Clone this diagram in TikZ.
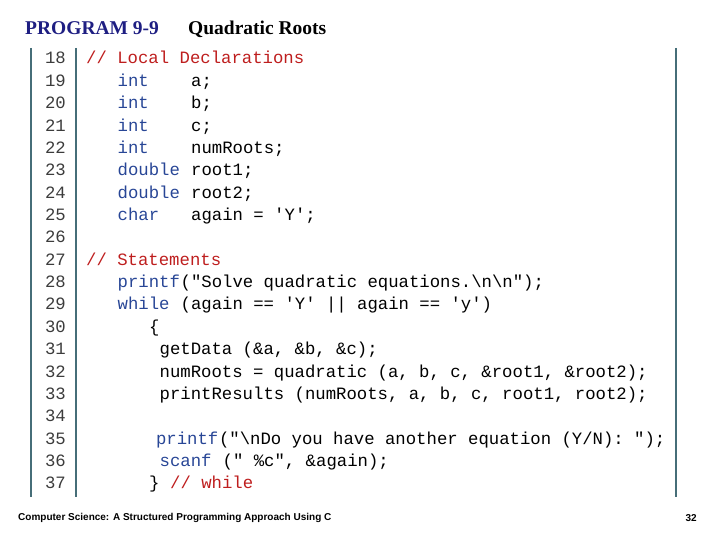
\documentclass[tikz,border=0pt]{standalone}
\usepackage{fontspec}
\setmainfont{Liberation Serif}
\setmonofont{Liberation Mono}
\newfontfamily\footfont{Liberation Sans}
\definecolor{kw}{RGB}{40,70,150}
\definecolor{cm}{RGB}{190,30,30}
\definecolor{ln}{RGB}{60,60,60}
\definecolor{rule}{RGB}{70,110,120}
\definecolor{navy}{RGB}{30,30,130}
\newcommand{\LY}[1]{-(64+22.36*(#1-18))}
\newcommand{\CX}[1]{(86+10.5*#1)}
\begin{document}
\begin{tikzpicture}[x=1pt,y=1pt,
  code/.style={anchor=base west,inner sep=0pt,font=\fontsize{17.3}{18}\ttfamily},
  num/.style={anchor=base east,inner sep=0pt,font=\fontsize{17.3}{18}\ttfamily,text=ln},
  k/.style={code,text=kw}, c/.style={code,text=cm}, p/.style={code,text=black}]
\useasboundingbox (0,0) rectangle (720,-540);
\draw[rule,line width=1.3pt] (31,-48) -- (31,-497);
\draw[rule,line width=1.3pt] (76,-48) -- (76,-497);
\draw[rule,line width=1.3pt] (676,-48) -- (676,-497);
\node[anchor=base west,inner sep=0pt,font=\bfseries\fontsize{19.5}{20}\selectfont,text=navy] (t1) at (25,-35) {PROGRAM 9-9};
\node[anchor=base west,inner sep=0pt,font=\bfseries\fontsize{19.5}{20}\selectfont] (t2) at (188,-35) {Quadratic Roots};
\foreach \n in {18,...,37} \node[num] (n\n) at (66,{\LY{\n}}) {\n};
\node[c] (l18) at ({\CX{0}},{\LY{18}}) {// Local Declarations};
\node[k] (l19k) at ({\CX{3}},{\LY{19}}) {int}; \node[p] (l19) at ({\CX{10}},{\LY{19}}) {a;};
\node[k] (l20k) at ({\CX{3}},{\LY{20}}) {int}; \node[p] (l20) at ({\CX{10}},{\LY{20}}) {b;};
\node[k] (l21k) at ({\CX{3}},{\LY{21}}) {int}; \node[p] (l21) at ({\CX{10}},{\LY{21}}) {c;};
\node[k] (l22k) at ({\CX{3}},{\LY{22}}) {int}; \node[p] (l22) at ({\CX{10}},{\LY{22}}) {numRoots;};
\node[k] (l23k) at ({\CX{3}},{\LY{23}}) {double}; \node[p] (l23) at ({\CX{10}},{\LY{23}}) {root1;};
\node[k] (l24k) at ({\CX{3}},{\LY{24}}) {double}; \node[p] (l24) at ({\CX{10}},{\LY{24}}) {root2;};
\node[k] (l25k) at ({\CX{3}},{\LY{25}}) {char}; \node[p] (l25) at ({\CX{10}},{\LY{25}}) {again = 'Y';};
\node[c] (l27) at ({\CX{0}},{\LY{27}}) {// Statements};
\node[k] (l28k) at ({\CX{3}},{\LY{28}}) {printf}; \node[p] (l28) at ({\CX{9}},{\LY{28}}) {("Solve quadratic equations.\textbackslash n\textbackslash n");};
\node[k] (l29k) at ({\CX{3}},{\LY{29}}) {while}; \node[p] (l29) at ({\CX{9}},{\LY{29}}) {(again == 'Y' || again == 'y')};
\node[p] (l30) at ({\CX{6}},{\LY{30}}) {\{};
\node[p] (l31) at ({\CX{7}},{\LY{31}}) {getData (\&a, \&b, \&c);};
\node[p] (l32) at ({\CX{7}},{\LY{32}}) {numRoots = quadratic (a, b, c, \&root1, \&root2);};
\node[p] (l33) at ({\CX{7}},{\LY{33}}) {printResults (numRoots, a, b, c, root1, root2);};
\node[k] (l35k) at ({\CX{6.65}},{\LY{35}}) {printf}; \node[p] (l35) at ({\CX{12.65}},{\LY{35}}) {("\textbackslash nDo you have another equation (Y/N): ");};
\node[k] (l36k) at ({\CX{7}},{\LY{36}}) {scanf}; \node[p] (l36) at ({\CX{13}},{\LY{36}}) {(" \%c", \&again);};
\node[p] (l37) at ({\CX{6}},{\LY{37}}) {\}}; \node[c] (l37c) at ({\CX{8}},{\LY{37}}) {// while};
\node[anchor=west,inner sep=0pt,font=\footfont\bfseries\fontsize{10}{12}\selectfont] (f1) at (18,-518) {Computer Science: A Structured Programming Approach Using C};
\node[anchor=east,inner sep=0pt,font=\footfont\bfseries\fontsize{10}{12}\selectfont] (f2) at (697,-518) {32};
\end{tikzpicture}
\end{document}
